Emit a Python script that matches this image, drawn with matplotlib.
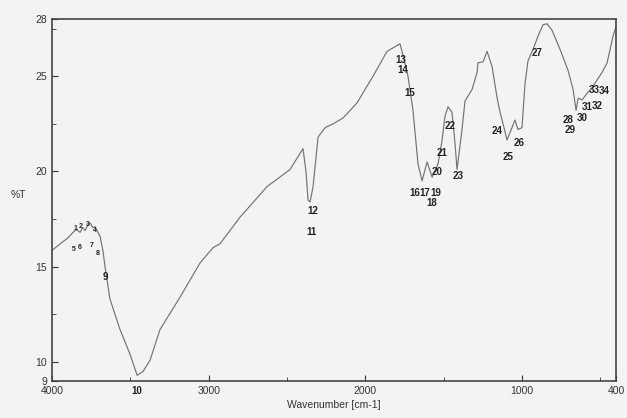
import matplotlib
matplotlib.use("Agg")
import matplotlib.pyplot as plt
import numpy as np

# spectrum (wavenumber cm-1, %T)
wavenumber = [4000, 3949, 3900, 3866, 3845, 3821, 3805, 3789, 3770, 3757, 3740, 3726,
              3694, 3674, 3662, 3630, 3566,
              3502, 3457, 3419, 3374, 3311, 3183, 3055, 2972, 2928, 2800, 2628, 2481,
              2398, 2379, 2366, 2353, 2334, 2302, 2257, 2206, 2143, 2053, 1951, 1862,
              1779, 1760, 1728, 1696, 1664, 1638, 1606, 1574, 1536, 1511, 1492, 1472,
              1447, 1428, 1415, 1383, 1364, 1319, 1287, 1281, 1249, 1223, 1191, 1160,
              1140, 1115, 1096, 1064, 1045, 1026, 1000, 981, 962, 930, 898, 866, 840,
              808, 757, 706, 674, 655, 642, 617, 585, 553, 521, 489, 457, 419, 400]
transmittance = [15.85, 16.2, 16.5, 16.8, 16.95, 16.8, 17.05, 16.9, 17.2, 17.3, 17.05, 17.1,
                 16.6, 15.8, 15.0, 13.3, 11.7,
                 10.4, 9.3, 9.5, 10.1, 11.7, 13.4, 15.2, 16.0, 16.2, 17.6, 19.2, 20.1,
                 21.2, 20.0, 18.5, 18.4, 19.2, 21.8, 22.3, 22.5, 22.8, 23.6, 25.0, 26.3,
                 26.7, 26.1, 25.0, 23.2, 20.4, 19.5, 20.5, 19.7, 20.4, 21.6, 22.9, 23.4,
                 23.1, 21.5, 20.1, 22.2, 23.7, 24.3, 25.2, 25.7, 25.75, 26.3, 25.5, 23.9,
                 23.1, 22.3, 21.65, 22.3, 22.7, 22.2, 22.3, 24.6, 25.8, 26.4, 27.1, 27.7, 27.75,
                 27.4, 26.4, 25.3, 24.3, 23.2, 23.85, 23.75, 24.1, 24.4, 24.8, 25.2, 25.7, 27.1, 27.6]

# peak labels as printed on the chart
peak_labels = [str(i) for i in range(1, 35)]
peak_wn = [3853, 3815, 3770, 3726, 3860, 3821, 3745, 3706, 3662, 3457,
           2347, 2334, 1772, 1760, 1715, 1683, 1619, 1574, 1549, 1543,
           1511, 1460, 1409, 1160, 1089, 1019, 904, 706, 693, 617,
           585, 521, 540, 477]
peak_T = [17.0, 17.1, 17.2, 16.9, 15.9, 16.0, 16.1, 15.7, 14.45, 8.47,
          16.8, 17.9, 25.85, 25.32, 24.1, 18.85, 18.85, 18.35, 18.85, 19.97,
          20.97, 22.4, 19.76, 22.1, 20.75, 21.5, 26.2, 22.7, 22.17, 22.8,
          23.4, 23.45, 24.3, 24.2]

plt.rcParams['font.family'] = ['Liberation Sans', 'DejaVu Sans']

fig = plt.figure(figsize=(6.27, 4.18), dpi=100, facecolor='#f3f3f3')
ax = fig.add_axes([0.083, 0.0885, 0.8995, 0.866])
ax.set_facecolor('#f3f3f3')

ax.plot(wavenumber, transmittance, color='#737373', lw=0.85)

for lab, x, y in zip(peak_labels, peak_wn, peak_T):
    small = int(lab) <= 8
    ax.text(x, y, lab, fontsize=5 if small else 7, fontweight='bold',
            ha='center', va='center', color='#222222', clip_on=False)

ax.set_xlim(4000, 400)
ax.set_ylim(9, 28)
ax.set_xticks([4000, 3000, 2000, 1000, 400])
ax.set_xticks([3500, 2500, 1500, 500], minor=True)
ax.set_yticks([9, 10, 15, 20, 25, 28])
ax.set_yticks([12.5, 17.5, 22.5, 27.5], minor=True)
ax.tick_params(which='both', direction='in', labelsize=7.5, colors='#333333')
ax.tick_params(which='major', length=4)
ax.tick_params(which='minor', length=3)
for s in ax.spines.values():
    s.set_color('#444444')
    s.set_linewidth(1.2)

ax.set_xlabel('Wavenumber [cm-1]', fontsize=7.5, labelpad=3, color='#333333')
ax.set_ylabel('%T', fontsize=7.5, rotation=0, labelpad=12, color='#333333')

fig.savefig('out.png', dpi=100, facecolor=fig.get_facecolor())
